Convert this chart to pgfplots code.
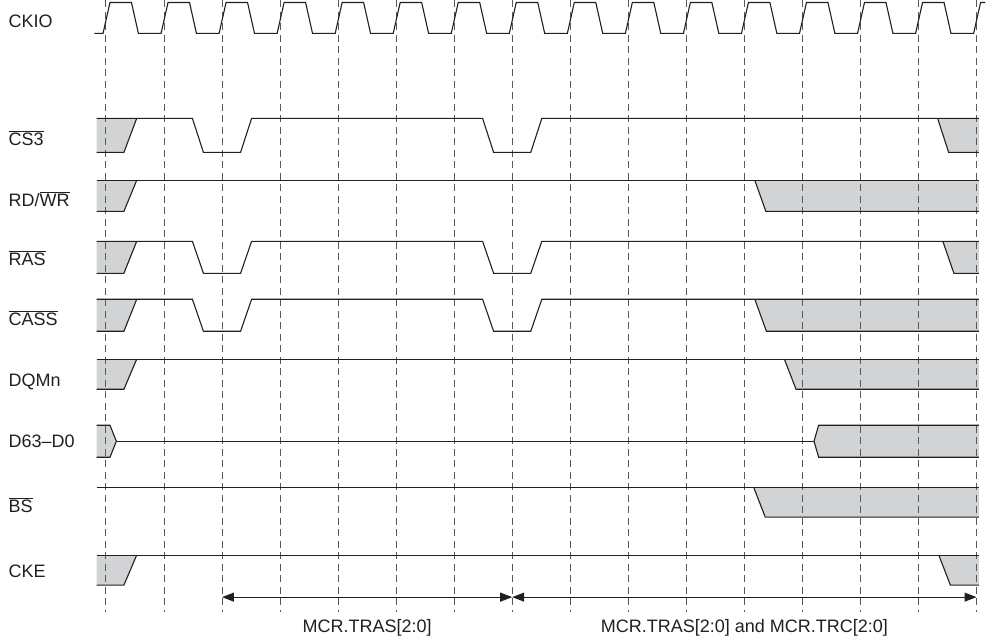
\documentclass[border=0pt]{standalone}
\usepackage{fontspec}
\setmainfont{Liberation Sans}
\usepackage{pgfplots}
\pgfplotsset{compat=1.18}
\usetikzlibrary{arrows.meta}
\definecolor{lc}{HTML}{231F20}
\definecolor{gf}{HTML}{D1D3D4}
\definecolor{dc}{HTML}{58595B}
\tikzset{
  sig/.style={draw=lc,line width=1.1pt,mark=none,line join=miter},
  gr/.style={fill=gf,draw=none,mark=none},
  dl/.style={draw=dc,line width=0.9pt,mark=none,dash pattern=on 7pt off 4.5pt},
  lab/.style={anchor=base west,inner sep=0pt,text=lc,font=\fontsize{18}{21.6}\selectfont},
  blab/.style={anchor=base,inner sep=0pt,text=lc,font=\fontsize{18}{21.6}\selectfont},
  ivarr/.style={draw=lc,line width=1pt,mark=none,{Triangle[length=12pt,width=9pt]}-{Triangle[length=12pt,width=9pt]}}}
\begin{document}
\fontsize{18}{21.6}\selectfont
\begin{tikzpicture}
\begin{axis}[width=986pt,height=637pt,scale only axis,
  xmin=-1.825,xmax=15.154,ymin=0,ymax=637,y dir=reverse,
  axis lines=none,ticks=none,clip=false]

% ---- grey fills ----
% CS3
\addplot[gr] coordinates {(-0.16,118)(0.53,118)(0.31,152)(-0.16,152)} -- cycle;
\addplot[gr] coordinates {(14.33,118)(14.52,152)(15.04,152)(15.04,118)} -- cycle;
% RD/WR
\addplot[gr] coordinates {(-0.16,180)(0.53,180)(0.31,211)(-0.16,211)} -- cycle;
\addplot[gr] coordinates {(11.18,180)(11.37,211)(15.04,211)(15.04,180)} -- cycle;
% RAS
\addplot[gr] coordinates {(-0.16,241)(0.53,241)(0.31,273)(-0.16,273)} -- cycle;
\addplot[gr] coordinates {(14.42,241)(14.61,273)(15.04,273)(15.04,241)} -- cycle;
% CASS
\addplot[gr] coordinates {(-0.16,299)(0.53,299)(0.31,331)(-0.16,331)} -- cycle;
\addplot[gr] coordinates {(11.18,299)(11.38,331)(15.04,331)(15.04,299)} -- cycle;
% DQMn
\addplot[gr] coordinates {(-0.16,359)(0.53,359)(0.31,389)(-0.16,389)} -- cycle;
\addplot[gr] coordinates {(11.69,359)(11.89,389)(15.04,389)(15.04,359)} -- cycle;
% D63-D0
\addplot[gr] coordinates {(-0.16,425)(0.07,425)(0.18,441)(0.07,457)(-0.16,457)} -- cycle;
\addplot[gr] coordinates {(12.20,441)(12.28,425)(15.04,425)(15.04,457)(12.28,457)} -- cycle;
% BS
\addplot[gr] coordinates {(11.16,487)(11.36,517)(15.04,517)(15.04,487)} -- cycle;
% CKE
\addplot[gr] coordinates {(-0.16,555)(0.53,555)(0.31,585)(-0.16,585)} -- cycle;
\addplot[gr] coordinates {(14.35,555)(14.55,585)(15.04,585)(15.04,555)} -- cycle;

% ---- dashed clock lines ----
\addplot[dl] coordinates {(0,0)(0,612)};
\addplot[dl] coordinates {(1,0)(1,612)};
\addplot[dl] coordinates {(2,0)(2,612)};
\addplot[dl] coordinates {(3,0)(3,612)};
\addplot[dl] coordinates {(4,0)(4,612)};
\addplot[dl] coordinates {(5,0)(5,612)};
\addplot[dl] coordinates {(6,0)(6,612)};
\addplot[dl] coordinates {(7,0)(7,612)};
\addplot[dl] coordinates {(8,0)(8,612)};
\addplot[dl] coordinates {(9,0)(9,612)};
\addplot[dl] coordinates {(10,0)(10,612)};
\addplot[dl] coordinates {(11,0)(11,612)};
\addplot[dl] coordinates {(12,0)(12,612)};
\addplot[dl] coordinates {(13,0)(13,612)};
\addplot[dl] coordinates {(14,0)(14,612)};
\addplot[dl] coordinates {(15,0)(15,612)};

% ---- CKIO ----
\addplot[sig] coordinates {(-0.2,33)(-0.05,33)(0.07,2)(0.44,2)(0.56,33)(0.95,33)(1.07,2)(1.44,2)(1.56,33)(1.95,33)(2.07,2)(2.44,2)(2.56,33)(2.95,33)(3.07,2)(3.44,2)(3.56,33)(3.95,33)(4.07,2)(4.44,2)(4.56,33)(4.95,33)(5.07,2)(5.44,2)(5.56,33)(5.95,33)(6.07,2)(6.44,2)(6.56,33)(6.95,33)(7.07,2)(7.44,2)(7.56,33)(7.95,33)(8.07,2)(8.44,2)(8.56,33)(8.95,33)(9.07,2)(9.44,2)(9.56,33)(9.95,33)(10.07,2)(10.44,2)(10.56,33)(10.95,33)(11.07,2)(11.44,2)(11.56,33)(11.95,33)(12.07,2)(12.44,2)(12.56,33)(12.95,33)(13.07,2)(13.44,2)(13.56,33)(13.95,33)(14.07,2)(14.44,2)(14.56,33)(14.95,33)(15.07,2)(15.154,2)};

% ---- CS3 ----
\addplot[sig] coordinates {(-0.16,118)(1.49,118)(1.68,152)(2.32,152)(2.51,118)(6.49,118)(6.68,152)(7.32,152)(7.51,118)(15.04,118)};
\addplot[sig] coordinates {(-0.16,152)(0.31,152)(0.53,118)};
\addplot[sig] coordinates {(14.33,118)(14.52,152)(15.04,152)};
% ---- RD/WR ----
\addplot[sig] coordinates {(-0.16,180)(15.04,180)};
\addplot[sig] coordinates {(-0.16,211)(0.31,211)(0.53,180)};
\addplot[sig] coordinates {(11.18,180)(11.37,211)(15.04,211)};
% ---- RAS ----
\addplot[sig] coordinates {(-0.16,241)(1.49,241)(1.68,273)(2.32,273)(2.51,241)(6.49,241)(6.68,273)(7.32,273)(7.51,241)(15.04,241)};
\addplot[sig] coordinates {(-0.16,273)(0.31,273)(0.53,241)};
\addplot[sig] coordinates {(14.42,241)(14.61,273)(15.04,273)};
% ---- CASS ----
\addplot[sig] coordinates {(-0.16,299)(1.49,299)(1.68,331)(2.32,331)(2.51,299)(6.49,299)(6.68,331)(7.32,331)(7.51,299)(15.04,299)};
\addplot[sig] coordinates {(-0.16,331)(0.31,331)(0.53,299)};
\addplot[sig] coordinates {(11.18,299)(11.38,331)(15.04,331)};
% ---- DQMn ----
\addplot[sig] coordinates {(-0.16,359)(15.04,359)};
\addplot[sig] coordinates {(-0.16,389)(0.31,389)(0.53,359)};
\addplot[sig] coordinates {(11.69,359)(11.89,389)(15.04,389)};
% ---- D63-D0 ----
\addplot[sig] coordinates {(-0.16,425)(0.07,425)(0.18,441)(0.07,457)(-0.16,457)};
\addplot[sig] coordinates {(0.18,441)(12.20,441)};
\addplot[sig] coordinates {(15.04,425)(12.28,425)(12.20,441)(12.28,457)(15.04,457)};
% ---- BS ----
\addplot[sig] coordinates {(-0.16,487)(15.04,487)};
\addplot[sig] coordinates {(11.16,487)(11.36,517)(15.04,517)};
% ---- CKE ----
\addplot[sig] coordinates {(-0.16,555)(15.04,555)};
\addplot[sig] coordinates {(-0.16,585)(0.31,585)(0.53,555)};
\addplot[sig] coordinates {(14.35,555)(14.55,585)(15.04,585)};

% ---- interval arrows ----
\addplot[ivarr] coordinates {(2,597)(7,597)};
\addplot[ivarr] coordinates {(7,597)(15,597)};

% ---- labels ----
\node[lab] at (axis cs:-1.68,27) {CKIO};
\node[lab] at (axis cs:-1.68,145) {$\overline{\hbox{CS3}}$};
\node[lab] at (axis cs:-1.68,206) {RD/$\overline{\hbox{WR}}$};
\node[lab] at (axis cs:-1.68,265) {$\overline{\hbox{RAS}}$};
\node[lab] at (axis cs:-1.68,325) {$\overline{\hbox{CASS}}$};
\node[lab] at (axis cs:-1.68,386) {DQMn};
\node[lab] at (axis cs:-1.68,447) {D63--D0};
\node[lab] at (axis cs:-1.68,512) {$\overline{\hbox{BS}}$};
\node[lab] at (axis cs:-1.68,577) {CKE};
\node[blab] at (axis cs:4.5,632.5) {MCR.TRAS[2:0]};
\node[blab] at (axis cs:11,632.5) {MCR.TRAS[2:0] and MCR.TRC[2:0]};
\end{axis}
\path (current axis.south west) rectangle (current axis.north east);
\end{tikzpicture}
\end{document}
